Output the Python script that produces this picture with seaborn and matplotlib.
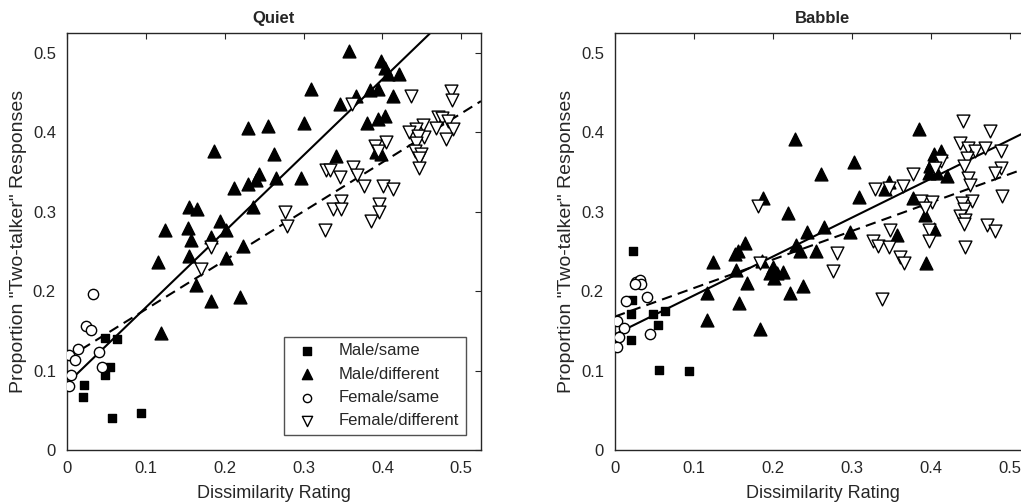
import numpy as np
import pandas as pd
import matplotlib
matplotlib.use('Agg')
import matplotlib.pyplot as plt
import seaborn as sns

# --- Quiet ---
q_ms_x = [0.048, 0.063, 0.054, 0.048, 0.021, 0.020, 0.057, 0.094]
q_ms_y = [0.141, 0.140, 0.105, 0.095, 0.082, 0.067, 0.040, 0.047]

q_md_x = [0.229, 0.255, 0.186, 0.263, 0.243, 0.230, 0.240, 0.265, 0.212, 0.236, 0.155, 0.165, 0.124,
          0.153, 0.194, 0.202, 0.157, 0.183, 0.223, 0.115, 0.155, 0.201, 0.164, 0.183, 0.219, 0.119,
          0.357, 0.398, 0.403, 0.407, 0.421, 0.310, 0.366, 0.384, 0.395, 0.346, 0.414, 0.301, 0.380,
          0.395, 0.403, 0.341, 0.392, 0.398, 0.297]
q_md_y = [0.406, 0.408, 0.376, 0.373, 0.347, 0.335, 0.340, 0.343, 0.330, 0.306, 0.306, 0.303, 0.277,
          0.280, 0.288, 0.277, 0.265, 0.268, 0.257, 0.237, 0.244, 0.242, 0.208, 0.187, 0.192, 0.147,
          0.502, 0.490, 0.481, 0.473, 0.473, 0.455, 0.446, 0.453, 0.455, 0.435, 0.446, 0.412, 0.412,
          0.417, 0.420, 0.370, 0.375, 0.373, 0.342]

q_fs_x = [0.033, 0.024, 0.030, 0.014, 0.003, 0.010, 0.041, 0.044, 0.005, 0.002]
q_fs_y = [0.197, 0.156, 0.151, 0.127, 0.119, 0.113, 0.124, 0.104, 0.094, 0.080]

q_fd_x = [0.182, 0.170, 0.362, 0.436, 0.487, 0.488, 0.471, 0.476, 0.483, 0.468, 0.489, 0.451, 0.442,
          0.434, 0.453, 0.445, 0.481, 0.443, 0.405, 0.390, 0.441, 0.449, 0.447, 0.447, 0.394, 0.329,
          0.333, 0.346, 0.363, 0.368, 0.377, 0.401, 0.413, 0.348, 0.337, 0.348, 0.396, 0.396, 0.386,
          0.276, 0.279, 0.327]
q_fd_y = [0.256, 0.228, 0.436, 0.446, 0.452, 0.441, 0.419, 0.418, 0.414, 0.405, 0.404, 0.409, 0.404,
          0.400, 0.394, 0.395, 0.391, 0.387, 0.388, 0.383, 0.376, 0.373, 0.367, 0.355, 0.377, 0.352,
          0.353, 0.344, 0.356, 0.346, 0.333, 0.332, 0.328, 0.313, 0.303, 0.303, 0.310, 0.300, 0.288,
          0.300, 0.282, 0.277]

# --- Babble ---
b_ms_x = [0.023, 0.021, 0.020, 0.048, 0.063, 0.054, 0.020, 0.056, 0.094]
b_ms_y = [0.250, 0.189, 0.171, 0.171, 0.175, 0.157, 0.139, 0.101, 0.099]

b_md_x = [0.165, 0.152, 0.156, 0.124, 0.153, 0.186, 0.167, 0.116, 0.157, 0.116, 0.183, 0.200, 0.196,
          0.205, 0.213, 0.201, 0.222, 0.229, 0.228, 0.187, 0.219, 0.384, 0.261, 0.302, 0.413, 0.403,
          0.401, 0.399, 0.397, 0.407, 0.420, 0.346, 0.342, 0.309, 0.377, 0.392, 0.403, 0.357, 0.297,
          0.264, 0.243, 0.394, 0.238, 0.254, 0.234]
b_md_y = [0.260, 0.247, 0.251, 0.237, 0.226, 0.238, 0.210, 0.198, 0.185, 0.164, 0.152, 0.231, 0.223,
          0.223, 0.224, 0.217, 0.198, 0.258, 0.392, 0.317, 0.298, 0.404, 0.347, 0.362, 0.377, 0.373,
          0.362, 0.358, 0.349, 0.349, 0.345, 0.338, 0.328, 0.319, 0.317, 0.296, 0.278, 0.271, 0.275,
          0.281, 0.275, 0.236, 0.207, 0.250, 0.250]

b_fs_x = [0.027, 0.032, 0.033, 0.025, 0.014, 0.041, 0.002, 0.011, 0.005, 0.002, 0.044]
b_fs_y = [0.212, 0.214, 0.209, 0.209, 0.187, 0.193, 0.163, 0.153, 0.142, 0.130, 0.146]

b_fd_x = [0.184, 0.181, 0.440, 0.475, 0.436, 0.447, 0.456, 0.468, 0.488, 0.413, 0.445, 0.441, 0.405,
          0.488, 0.481, 0.377, 0.447, 0.449, 0.490, 0.364, 0.329, 0.346, 0.387, 0.401, 0.452, 0.439,
          0.441, 0.392, 0.437, 0.443, 0.441, 0.471, 0.481, 0.397, 0.348, 0.327, 0.333, 0.347, 0.397,
          0.443, 0.360, 0.366, 0.281, 0.276, 0.338]
b_fd_y = [0.236, 0.307, 0.414, 0.401, 0.387, 0.380, 0.377, 0.380, 0.377, 0.364, 0.368, 0.358, 0.355,
          0.355, 0.349, 0.348, 0.343, 0.334, 0.320, 0.333, 0.328, 0.330, 0.313, 0.312, 0.314, 0.311,
          0.303, 0.305, 0.295, 0.290, 0.284, 0.283, 0.276, 0.277, 0.277, 0.263, 0.257, 0.256, 0.263,
          0.256, 0.243, 0.236, 0.248, 0.225, 0.190]

ticks = [0, 0.1, 0.2, 0.3, 0.4, 0.5]
tick_labels = ['0', '0.1', '0.2', '0.3', '0.4', '0.5']

sns.set_style('white')
plt.rcParams['font.family'] = ['Liberation Sans', 'DejaVu Sans']

fig = plt.figure(figsize=(10.21, 5.04), dpi=100)
ax1 = fig.add_axes([67 / 1021, 54 / 504, 414 / 1021, 417 / 504])
ax2 = fig.add_axes([615 / 1021, 54 / 504, 415 / 1021, 417 / 504])

groups = {
    'Quiet': [(q_ms_x, q_ms_y), (q_md_x, q_md_y), (q_fs_x, q_fs_y), (q_fd_x, q_fd_y)],
    'Babble': [(b_ms_x, b_ms_y), (b_md_x, b_md_y), (b_fs_x, b_fs_y), (b_fd_x, b_fd_y)],
}
names = ['Male/same', 'Male/different', 'Female/same', 'Female/different']
styles = [('s', 'black', 40), ('^', 'black', 85), ('o', 'white', 55), ('v', 'white', 85)]

for ax, title in [(ax1, 'Quiet'), (ax2, 'Babble')]:
    ax.set_xlim(0, 0.525)
    ax.set_ylim(0, 0.525)
    g = groups[title]
    for (x, y), name, (m, fc, s) in zip(g, names, styles):
        sns.scatterplot(x=x, y=y, ax=ax, marker=m, s=s, color=fc, edgecolor='black',
                        linewidth=1.0, label=name, zorder=3)
    # male fit (solid), female fit (dashed)
    male = pd.DataFrame({'x': g[0][0] + g[1][0], 'y': g[0][1] + g[1][1]})
    female = pd.DataFrame({'x': g[2][0] + g[3][0], 'y': g[2][1] + g[3][1]})
    sns.regplot(data=male, x='x', y='y', ax=ax, scatter=False, ci=None, truncate=False,
                line_kws={'color': 'black', 'lw': 1.5, 'zorder': 2})
    sns.regplot(data=female, x='x', y='y', ax=ax, scatter=False, ci=None, truncate=False,
                line_kws={'color': 'black', 'lw': 1.5, 'dashes': (5, 3), 'zorder': 2})
    ax.set_xlim(0, 0.525)
    ax.set_ylim(0, 0.525)
    ax.set_xticks(ticks)
    ax.set_xticklabels(tick_labels)
    ax.set_yticks(ticks)
    ax.set_yticklabels(tick_labels)
    ax.tick_params(direction='in', top=True, right=True, length=4, width=0.8,
                   labelsize=12, pad=8, colors='#262626')
    for sp in ax.spines.values():
        sp.set_color('#262626')
        sp.set_linewidth(1.0)
    ax.set_title(title, fontsize=12, fontweight='bold', pad=7)
    ax.set_xlabel('Dissimilarity Rating', fontsize=13)
    ax.set_ylabel('Proportion "Two-talker" Responses', fontsize=14)
    ax.xaxis.set_label_coords(0.5, -0.085)
    ax.yaxis.set_label_coords(-0.097, 0.5)

leg = ax1.legend(loc='lower right', fontsize=12, frameon=True, fancybox=False,
                 edgecolor='#262626', borderaxespad=0.9, handletextpad=0.9,
                 labelspacing=0.5, markerscale=0.8)
leg.get_frame().set_linewidth(1.0)
ax2.get_legend().remove()

fig.savefig('out.png', dpi=100)
